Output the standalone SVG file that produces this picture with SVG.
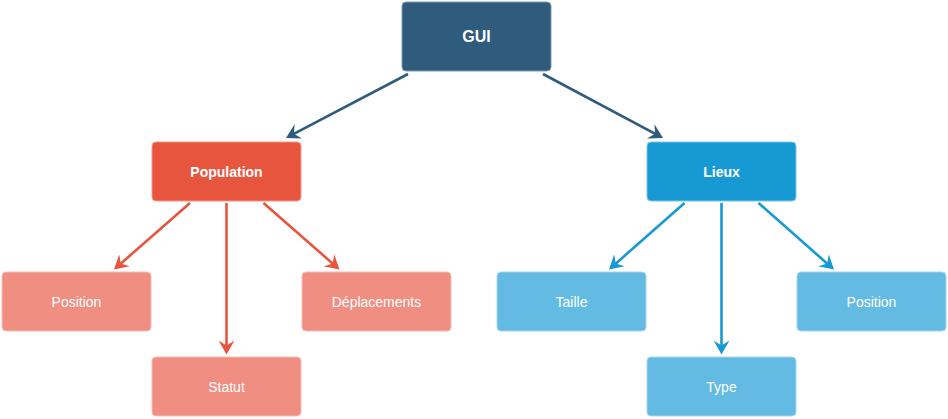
<svg xmlns="http://www.w3.org/2000/svg" width="948" height="419" viewBox="0 0 948 419">
<defs>
<style>
.node{stroke-width:1}
.t{font-family:"Liberation Sans",Arial,sans-serif;fill:#ffffff;text-anchor:middle;dominant-baseline:central}
.b{font-weight:bold}
.c{fill:none;stroke-width:2.6}
</style>
<marker id="mDark" viewBox="0 0 14 16" markerUnits="userSpaceOnUse" markerWidth="14" markerHeight="16" refX="10" refY="8" orient="auto"><path d="M0,0 L14,8 L0,16 L5,8 Z" fill="#2F5B7D"/></marker>
<marker id="mRed" viewBox="0 0 14 16" markerUnits="userSpaceOnUse" markerWidth="14" markerHeight="16" refX="10" refY="8" orient="auto"><path d="M0,0 L14,8 L0,16 L5,8 Z" fill="#E8553F"/></marker>
<marker id="mBlue" viewBox="0 0 14 16" markerUnits="userSpaceOnUse" markerWidth="14" markerHeight="16" refX="10" refY="8" orient="auto"><path d="M0,0 L14,8 L0,16 L5,8 Z" fill="#1799D3"/></marker>
</defs>
<rect width="948" height="419" fill="#ffffff"/>
<g id="connectors">
<line class="c" x1="408" y1="74" x2="289.5" y2="136.1" stroke="#2F5B7D" marker-end="url(#mDark)"/>
<line class="c" x1="543" y1="74" x2="659.5" y2="136.1" stroke="#2F5B7D" marker-end="url(#mDark)"/>
<line class="c" x1="190" y1="203" x2="117" y2="266.9" stroke="#E8553F" marker-end="url(#mRed)"/>
<line class="c" x1="226.5" y1="203" x2="226.5" y2="350.5" stroke="#E8553F" marker-end="url(#mRed)"/>
<line class="c" x1="263.5" y1="203" x2="336.5" y2="266.9" stroke="#E8553F" marker-end="url(#mRed)"/>
<line class="c" x1="684.5" y1="203" x2="612" y2="266.9" stroke="#1799D3" marker-end="url(#mBlue)"/>
<line class="c" x1="721.5" y1="203" x2="721.5" y2="350.5" stroke="#1799D3" marker-end="url(#mBlue)"/>
<line class="c" x1="758.5" y1="203" x2="831" y2="266.9" stroke="#1799D3" marker-end="url(#mBlue)"/>
</g>
<g id="gui"><rect class="node" x="402" y="2" width="149" height="69" rx="4" fill="#2F5B7D" stroke="#7F9BB0"/><text class="t b" x="476.5" y="36.5" font-size="16">GUI</text></g>
<g id="population"><rect class="node" x="152" y="142" width="149" height="59" rx="4" fill="#E8553F" stroke="#F2998C"/><text class="t b" x="226.5" y="171.5" font-size="14">Population</text></g>
<g id="lieux"><rect class="node" x="647" y="142" width="149" height="59" rx="4" fill="#1799D3" stroke="#7FC6E6"/><text class="t b" x="721.5" y="171.5" font-size="14">Lieux</text></g>
<g id="pop-position"><rect class="node" x="2" y="272" width="149" height="59" rx="4" fill="#F08E81" stroke="#F6BDB5"/><text class="t" x="76.5" y="301.5" font-size="14">Position</text></g>
<g id="pop-statut"><rect class="node" x="152" y="357" width="149" height="59" rx="4" fill="#F08E81" stroke="#F6BDB5"/><text class="t" x="226.5" y="386.5" font-size="14">Statut</text></g>
<g id="pop-deplacements"><rect class="node" x="302" y="272" width="149" height="59" rx="4" fill="#F08E81" stroke="#F6BDB5"/><text class="t" x="376.5" y="301.5" font-size="14">Déplacements</text></g>
<g id="lieux-taille"><rect class="node" x="497" y="272" width="149" height="59" rx="4" fill="#63BAE2" stroke="#A5D7EE"/><text class="t" x="571.5" y="301.5" font-size="14">Taille</text></g>
<g id="lieux-type"><rect class="node" x="647" y="357" width="149" height="59" rx="4" fill="#63BAE2" stroke="#A5D7EE"/><text class="t" x="721.5" y="386.5" font-size="14">Type</text></g>
<g id="lieux-position"><rect class="node" x="797" y="272" width="149" height="59" rx="4" fill="#63BAE2" stroke="#A5D7EE"/><text class="t" x="871.5" y="301.5" font-size="14">Position</text></g>
</svg>
